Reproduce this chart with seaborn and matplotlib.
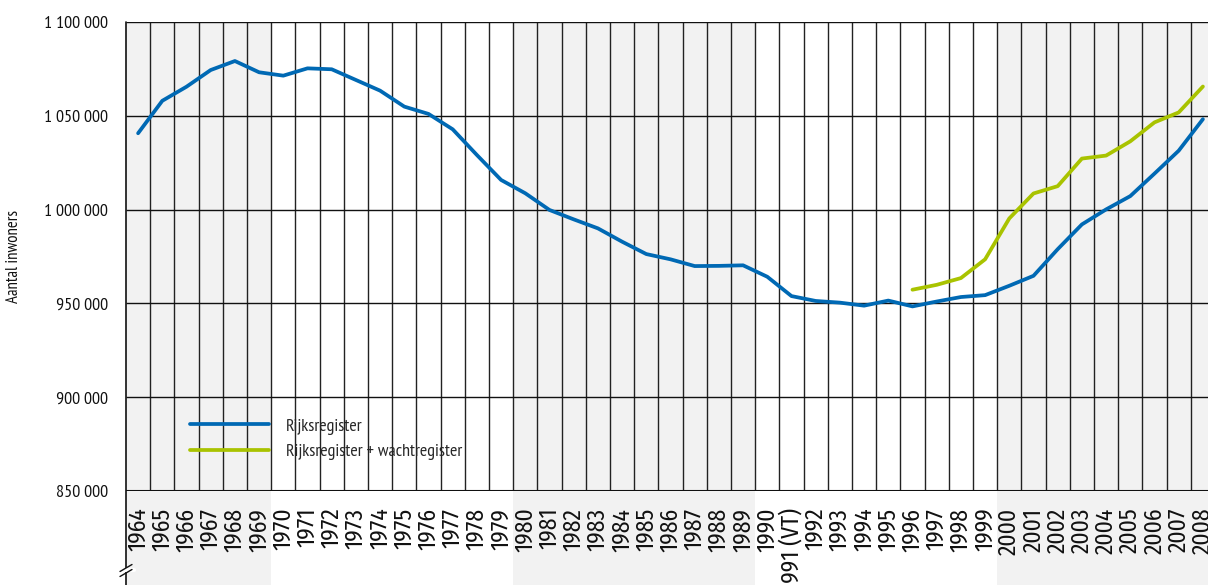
import matplotlib
matplotlib.use("Agg")
import matplotlib.pyplot as plt
import seaborn as sns
import pandas as pd
import warnings
warnings.filterwarnings('ignore')

# data
years = list(range(1964, 2009))
rijksregister = [1040700, 1058000, 1065500, 1074400, 1079200, 1073200, 1071400, 1075300,
                 1074800, 1069100, 1063400, 1054900, 1051000, 1042800, 1029100, 1015800,
                 1008700, 999800, 994800, 990000, 982900, 976300, 973500, 969900,
                 970000, 970300, 964200, 953900, 951300, 950400, 948800, 951500,
                 948400, 951000, 953400, 954400, 959400, 964700, 978900, 992100,
                 1000100, 1007200, 1019200, 1031400, 1048200]
wacht_years = list(range(1996, 2009))
rijks_wacht = [957300, 959900, 963500, 973500, 995300, 1008600, 1012500, 1027200,
               1028800, 1036400, 1046500, 1051800, 1065600]
year_labels = [("1991 (VT)" if y == 1991 else str(y)) for y in years]
y_ticks = [850000, 900000, 950000, 1000000, 1050000, 1100000]
grey_bands = [(1964, 1969), (1980, 1989), (2000, 2008)]

df1 = pd.DataFrame({"jaar": years, "inwoners": rijksregister})
df2 = pd.DataFrame({"jaar": wacht_years, "inwoners": rijks_wacht})

sns.set_theme(style="white")
plt.rcParams['font.family'] = ['PT Sans Narrow', 'DejaVu Sans']
xfont = ['Fira Sans Condensed', 'DejaVu Sans']

W, H = 1208, 585
fig = plt.figure(figsize=(W / 100, H / 100), dpi=100)
ax_l, ax_r, ax_t, ax_b = 126, 126 + 45 * 24.2, 22, 491
ax = fig.add_axes([ax_l / W, (H - ax_b) / H, (ax_r - ax_l) / W, (ax_b - ax_t) / H])
ax.set_facecolor("white")

def fx(px):
    return (px - ax_l) / (ax_r - ax_l)

def fy(py):
    return (ax_b - py) / (ax_b - ax_t)

# shaded decades, running down into the label area
for a, b in grey_bands:
    ax.axvspan(a - 0.5, b + 0.5, ymin=fy(600), ymax=1, color="#f2f2f2",
               lw=0, zorder=0, clip_on=False)

# column borders and horizontal grid
ax.vlines([y + 0.5 for y in years[:-1]], 850000, 1100000, color="#222222", lw=1.0, zorder=1)
ax.hlines(y_ticks[1:], 1963.5, 2008.5, color="#111111", lw=1.0, zorder=1)
ax.hlines([850000], 1963.5, 2008.5, color="#111111", lw=1.5, zorder=1)

sns.lineplot(data=df1, x="jaar", y="inwoners", color="#0069b4", lw=2.7,
             label="Rijksregister", ax=ax, zorder=3)
sns.lineplot(data=df2, x="jaar", y="inwoners", color="#a9c300", lw=2.7,
             label="Rijksregister + wachtregister", ax=ax, zorder=3)

ax.set_xlim(1963.5, 2008.5)
ax.set_ylim(850000, 1100000)
for s in ["top", "right", "bottom", "left"]:
    ax.spines[s].set_visible(False)

# left axis line down to the bottom, with break mark
ax.plot([0, 0], [fy(600), 1], transform=ax.transAxes, color="#111111", lw=1.2,
        clip_on=False, zorder=4)
ax.plot([fx(118), fx(134)], [fy(570), fy(570)], transform=ax.transAxes, color="white",
        lw=3, clip_on=False, zorder=5)
for dy in (-2.5, 2.5):
    ax.plot([fx(120), fx(132)], [fy(574 + dy), fy(567 + dy)], transform=ax.transAxes,
            color="#111111", lw=1.0, clip_on=False, zorder=6)

ax.set_xticks(years)
ax.set_xticklabels(year_labels, rotation=90, fontsize=17, color="#111111",
                   family=xfont, fontweight="normal")
ax.set_yticks(y_ticks)
ax.set_yticklabels([f"{v:,}".replace(",", " ") for v in y_ticks], fontsize=13,
                   color="#111111")
ax.tick_params(axis="x", length=0, pad=12)
ax.tick_params(axis="y", length=0, pad=13)
ax.set_xlabel("")
ax.set_ylabel("Aantal inwoners", fontsize=12, color="#111111", labelpad=16)

ax.legend(loc="upper left", bbox_to_anchor=(fx(190), fy(418)), frameon=False,
          borderpad=0, borderaxespad=0, handlelength=4.4, handletextpad=0.9,
          labelspacing=0.5, fontsize=13)

fig.savefig("out.png", dpi=100)
